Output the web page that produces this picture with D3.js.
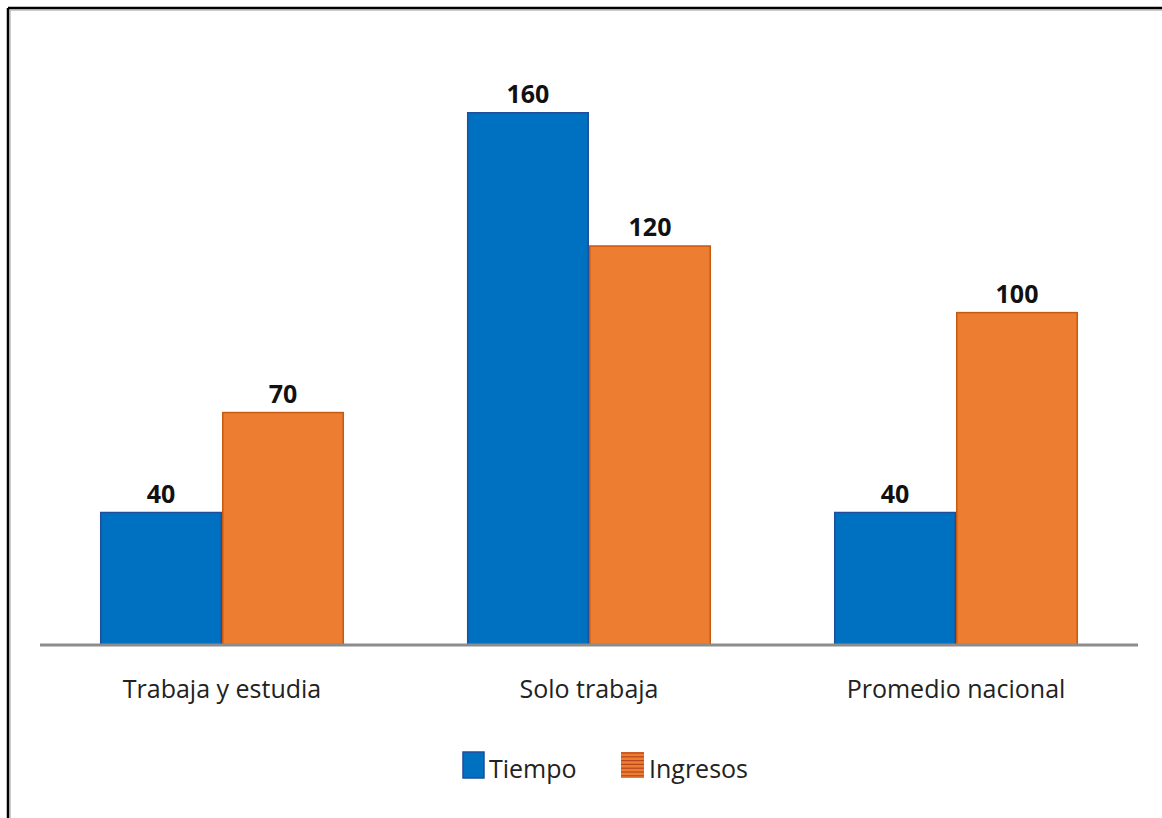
<!DOCTYPE html>
<html><head><meta charset="utf-8">
<script src="https://cdn.jsdelivr.net/npm/d3@7"></script>
<style>html,body{margin:0;padding:0;background:#fff;}svg{display:block;}</style>
</head><body>
<svg id="c" width="1162" height="818"></svg>
<script>
const categories = ["Trabaja y estudia", "Solo trabaja", "Promedio nacional"];
const seriesNames = ["Tiempo", "Ingresos"];
const tiempo = [40, 160, 40];
const ingresos = [70, 120, 100];
const colors = ["#0070C0", "#ED7D31"];
const edgeColors = ["#1F4E9A", "#C55A11"];

const svg = d3.select("#c");
const font = "'Open Sans', 'Noto Sans', sans-serif";

// frame (top & left border)
svg.append("line").attr("x1", 8).attr("x2", 1162).attr("y1", 8).attr("y2", 8).attr("stroke", "#000").attr("stroke-width", 2.5);
svg.append("line").attr("x1", 8).attr("x2", 8).attr("y1", 8).attr("y2", 818).attr("stroke", "#000").attr("stroke-width", 2.5);
svg.append("line").attr("x1", 10).attr("x2", 1162).attr("y1", 10).attr("y2", 10).attr("stroke", "#999").attr("stroke-width", 1);
svg.append("line").attr("x1", 10).attr("x2", 10).attr("y1", 10).attr("y2", 818).attr("stroke", "#999").attr("stroke-width", 1);

const x0 = d3.scaleBand().domain(categories).range([38.5, 1139.5]).paddingInner(0.335).paddingOuter(0.1675);
const x1 = d3.scaleBand().domain(seriesNames).range([0, x0.bandwidth()]);
const y = d3.scaleLinear().domain([0, 160]).range([645, 112]);

const data = categories.map((c, i) => ({cat: c, vals: [tiempo[i], ingresos[i]]}));

const g = svg.append("g");
const groups = g.selectAll("g.grp").data(data).join("g").attr("class", "grp")
  .attr("transform", d => `translate(${x0(d.cat)},0)`);

groups.selectAll("rect").data(d => d.vals.map((v, j) => ({v, j})))
  .join("rect")
  .attr("x", d => x1(seriesNames[d.j]) + 0.75)
  .attr("width", x1.bandwidth() - 1.5)
  .attr("y", d => y(d.v) + 0.75)
  .attr("height", d => y(0) - y(d.v) - 0.75)
  .attr("fill", d => colors[d.j])
  .attr("stroke", d => edgeColors[d.j])
  .attr("stroke-width", 1.5);

groups.selectAll("text.val").data(d => d.vals.map((v, j) => ({v, j})))
  .join("text").attr("class", "val")
  .attr("x", d => x1(seriesNames[d.j]) + x1.bandwidth() / 2)
  .attr("y", d => y(d.v) - 9)
  .attr("text-anchor", "middle")
  .attr("font-family", font).attr("font-weight", "bold").attr("font-size", 25)
  .attr("fill", "#111")
  .text(d => d.v);

// baseline
svg.append("line").attr("x1", 40).attr("x2", 1138).attr("y1", y(0)).attr("y2", y(0))
  .attr("stroke", "#8c8c8c").attr("stroke-width", 3);

// x axis labels
const xAxis = d3.axisBottom(x0).tickSize(0).tickPadding(0);
const ax = svg.append("g").attr("transform", `translate(0,${y(0)})`).call(xAxis);
ax.select(".domain").remove();
ax.selectAll("text").attr("font-family", font).attr("font-size", 25).attr("fill", "#222")
  .attr("dy", null).attr("y", 53);

// legend
const leg = svg.append("g");
leg.append("rect").attr("x", 463).attr("y", 752).attr("width", 21).attr("height", 26)
  .attr("fill", colors[0]).attr("stroke", edgeColors[0]).attr("stroke-width", 1.5);
leg.append("text").attr("x", 489).attr("y", 778).attr("font-family", font).attr("font-size", 25).attr("fill", "#222").text(seriesNames[0]);
const pat = leg.append("g");
pat.append("rect").attr("x", 621).attr("y", 752).attr("width", 23).attr("height", 26).attr("fill", colors[1]);
d3.range(7).forEach(i => {
  pat.append("line").attr("x1", 621).attr("x2", 644).attr("y1", 753 + i * 3.8).attr("y2", 753 + i * 3.8)
    .attr("stroke", "#B4471C").attr("stroke-width", 1.2);
});
leg.append("text").attr("x", 649).attr("y", 778).attr("font-family", font).attr("font-size", 25).attr("fill", "#222").text(seriesNames[1]);
</script>
</body></html>
